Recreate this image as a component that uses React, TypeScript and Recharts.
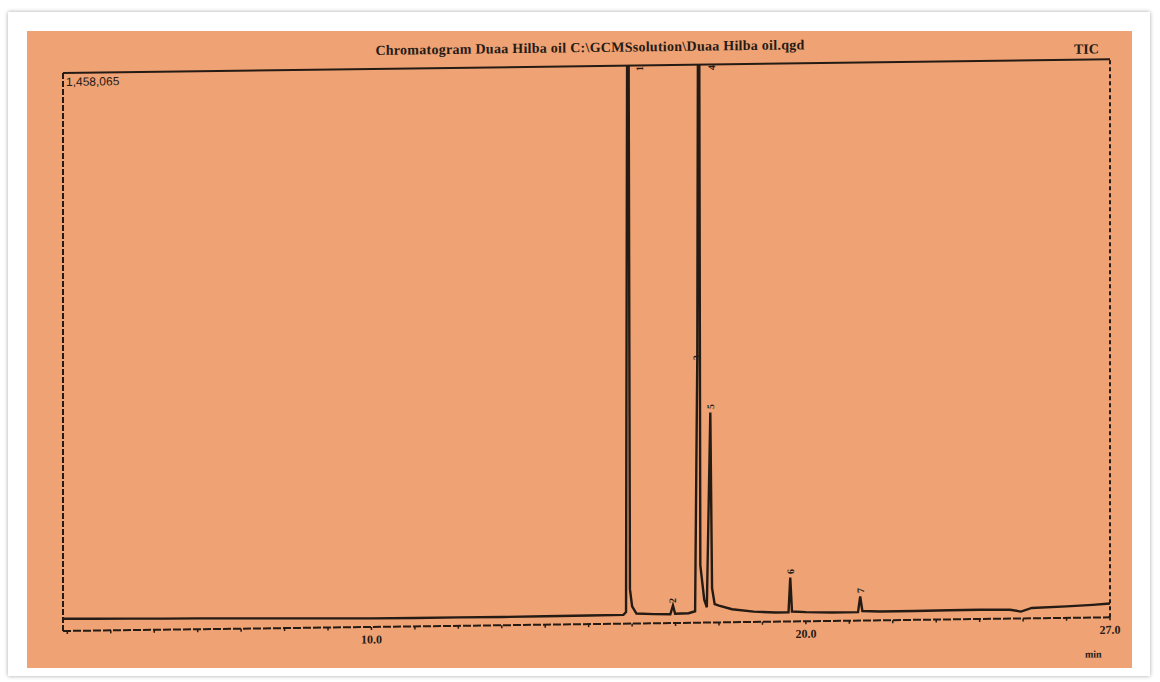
import { Line, LineChart, ReferenceDot, ReferenceLine, XAxis, YAxis } from "recharts";

const Y_MAX = 1458065;
const X_MIN = 2.9;
const X_MAX = 27;

// retention time (min) / TIC intensity
const retentionTimes = [
  2.9, 3.6, 4.4, 5.2, 6.0, 7.0, 8.0, 9.0, 10.0, 11.0, 12.0, 13.0, 14.0, 15.0,
  15.8, 15.86, 15.9, 15.95, 16.0, 16.1, 16.5, 16.88, 16.94, 16.99, 17.3, 17.45,
  17.5, 17.53, 17.57, 17.66, 17.72, 17.8, 17.84, 17.9, 18.0, 18.3, 18.8, 19.3,
  19.6, 19.64, 19.68, 20.0, 20.6, 21.2, 21.25, 21.3, 21.7, 22.5, 23.3, 24.0,
  24.7, 24.95, 25.2, 26.0, 26.6, 27.0,
];
const intensities = [
  32000, 31000, 30000, 29000, 28500, 27000, 25500, 24000, 22500, 22000, 22000,
  21500, 22000, 22500, 23000, 30000, 2400000, 90000, 45000, 26000, 24000, 23000,
  46000, 24000, 25000, 30000, 693000, 2400000, 150000, 60000, 40000, 549000,
  90000, 48000, 44000, 34000, 27000, 24000, 24000, 115000, 26000, 24000, 22000,
  22000, 63000, 25000, 23000, 23000, 24000, 24000, 23000, 18000, 27000, 30000,
  33000, 36000,
];

const peakNumbers = ["1", "2", "3", "4", "5", "6", "7"];
const peakTimes = [15.9, 16.94, 17.5, 17.53, 17.8, 19.64, 21.25];
const peakApex = [2400000, 46000, 693000, 2400000, 549000, 115000, 63000];

const xTicks = [
  3, 4, 5, 6, 7, 8, 9, 10, 11, 12, 13, 14, 15, 16, 17, 18, 19, 20, 21, 22, 23,
  24, 25, 26, 27,
];
const labelledTicks = [10, 20, 27];

const data = retentionTimes.map((t, i) => ({ t, v: intensities[i] }));

// label nudges (px) so the numbers sit where the plotter printed them
const LABEL_NUDGE: Record<string, [number, number]> = {
  "1": [12, 3],
  "2": [0, -5],
  "3": [-1, 0],
  "4": [13, 3],
  "5": [0, -6],
  "6": [0, -6],
  "7": [0, -6],
};

const INK = "#241b15";
const ORANGE = "#EFA274";
const SERIF = '"Liberation Serif", "Times New Roman", serif';

function PeakMark(props: any) {
  const { cx, cy, text } = props;
  if (cx == null || cy == null) return null;
  const [dx, dy] = LABEL_NUDGE[text] ?? [0, 0];
  const x = cx + dx;
  const y = cy + dy;
  return (
    <text
      x={x}
      y={y}
      transform={`rotate(-90 ${x} ${y})`}
      textAnchor="middle"
      dominantBaseline="central"
      fontFamily={SERIF}
      fontWeight={700}
      fontSize={10}
      fill={INK}
    >
      {text}
    </text>
  );
}

export default function App() {
  return (
    <div style={{ position: "absolute", left: 0, top: 0, width: 1160, height: 682, background: "#fff" }}>
      <div
        style={{
          position: "absolute",
          left: 8,
          top: 12,
          width: 1142,
          height: 664,
          background: "#fff",
          boxShadow: "0 0 4px rgba(0,0,0,0.35)",
        }}
      />
      <div style={{ position: "absolute", left: 27, top: 31, width: 1105, height: 637, background: ORANGE }}>
        <div
          style={{
            position: "absolute",
            left: 0,
            top: 0,
            width: 1105,
            height: 637,
            transform: "skewY(-0.75deg)",
            transformOrigin: "36px 0px",
          }}
        >
          <div
            style={{
              position: "absolute",
              left: 263,
              top: 16,
              width: 600,
              textAlign: "center",
              fontFamily: SERIF,
              fontWeight: 700,
              fontSize: 14,
              letterSpacing: 0.27,
              lineHeight: "16px",
              color: INK,
              whiteSpace: "nowrap",
            }}
          >
            Chromatogram Duaa Hilba oil C:\GCMSsolution\Duaa Hilba oil.qgd
          </div>
          <div
            style={{
              position: "absolute",
              left: 1047,
              top: 24,
              fontFamily: SERIF,
              fontWeight: 700,
              fontSize: 14,
              lineHeight: "16px",
              color: INK,
            }}
          >
            TIC
          </div>
          <div
            style={{
              position: "absolute",
              left: 39,
              top: 44,
              fontFamily: '"Liberation Sans", Arial, sans-serif',
              fontSize: 12,
              lineHeight: "14px",
              color: INK,
            }}
          >
            1,458,065
          </div>
          <div
            style={{
              position: "absolute",
              left: 1058,
              top: 631,
              fontFamily: SERIF,
              fontWeight: 700,
              fontSize: 10,
              lineHeight: "12px",
              color: INK,
            }}
          >
            min
          </div>
          <LineChart
            width={1105}
            height={637}
            data={data}
            margin={{ top: 42, right: 22, left: 36, bottom: 7 }}
          >
            <XAxis
              type="number"
              dataKey="t"
              domain={[X_MIN, X_MAX]}
              ticks={xTicks}
              interval={0}
              allowDataOverflow
              height={30}
              tickSize={3}
              tickMargin={5}
              stroke={INK}
              axisLine={{ stroke: INK, strokeWidth: 2, strokeDasharray: "8 2" }}
              tickLine={{ stroke: INK, strokeWidth: 1.5 }}
              tick={{ fill: INK, fontFamily: SERIF, fontWeight: 700, fontSize: 12 }}
              tickFormatter={(v: number) => (labelledTicks.includes(v) ? v.toFixed(1) : "")}
            />
            <YAxis hide type="number" domain={[0, Y_MAX]} allowDataOverflow />
            <ReferenceLine x={X_MIN} stroke={INK} strokeWidth={2} strokeDasharray="6 2" />
            <ReferenceLine x={X_MAX} stroke={INK} strokeWidth={2} strokeDasharray="4 3" />
            <ReferenceLine y={Y_MAX} stroke={INK} strokeWidth={2} />
            <Line
              type="linear"
              dataKey="v"
              stroke={INK}
              strokeWidth={2.4}
              dot={false}
              isAnimationActive={false}
            />
            {peakNumbers.map((n, i) => (
              <ReferenceDot
                key={n}
                x={peakTimes[i]}
                y={Math.min(peakApex[i], Y_MAX)}
                r={0}
                shape={(p: any) => <PeakMark {...p} text={n} />}
              />
            ))}
          </LineChart>
        </div>
      </div>
    </div>
  );
}
